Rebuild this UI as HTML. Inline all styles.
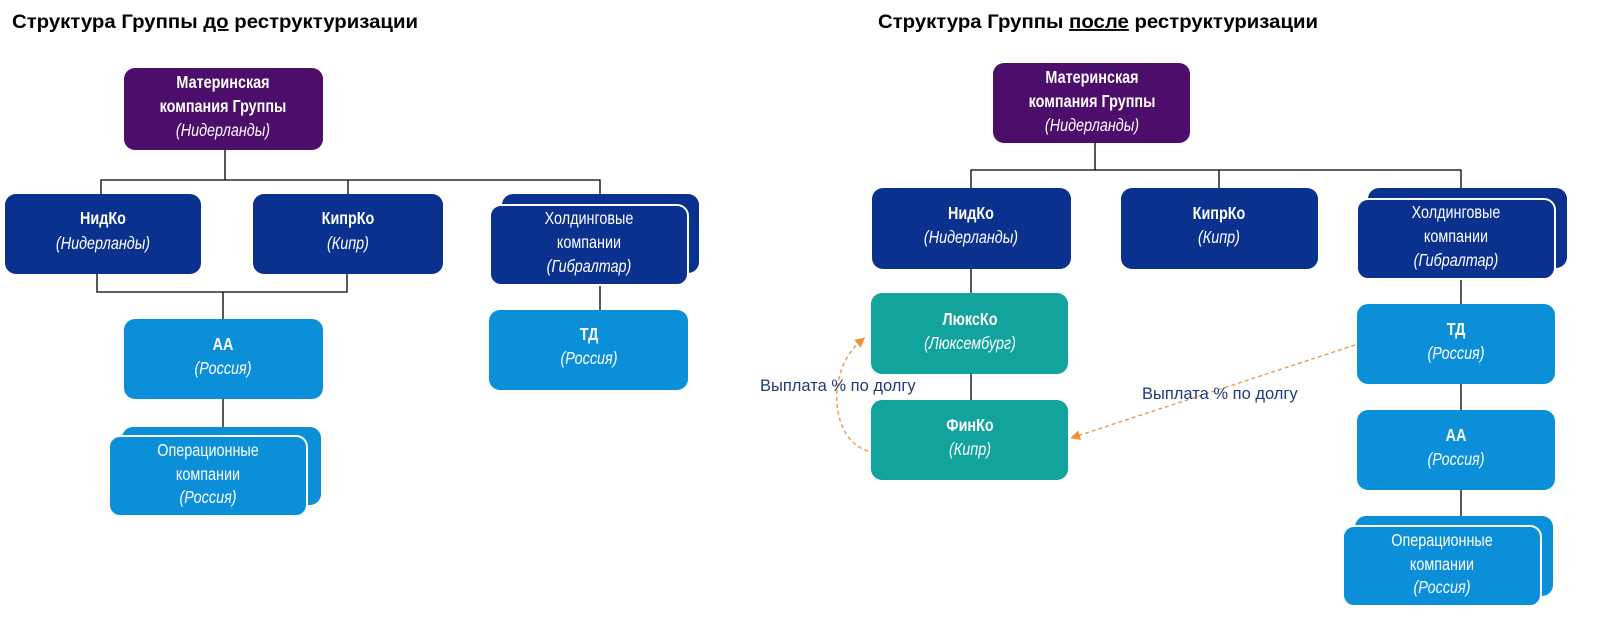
<!DOCTYPE html>
<html><head><meta charset="utf-8"><style>
html,body{margin:0;padding:0;background:#fff;}
svg{display:block;}
text{font-family:"Liberation Sans",sans-serif;font-size:18px;fill:#fff;text-anchor:middle;transform-box:fill-box;transform-origin:center;transform:scaleX(0.8);}
.b{font-weight:bold;}
.i{font-style:italic;}
.t{fill:#000;font-weight:bold;text-anchor:start;font-size:19px;transform:none;}
.l{fill:#1f3a7a;text-anchor:start;font-size:16.5px;transform:none;}
</style></head><body>
<svg width="1607" height="629" viewBox="0 0 1607 629">
<defs>
<marker id="ar" markerWidth="10" markerHeight="10" refX="6" refY="5" orient="auto" markerUnits="userSpaceOnUse">
<path d="M0,0 L10,5 L0,10 Z" fill="#f0913a"/></marker>
</defs>
<text class="t" x="12" y="28" textLength="406" lengthAdjust="spacingAndGlyphs">Структура Группы <tspan text-decoration="underline">до</tspan> реструктуризации</text>
<text class="t" x="878" y="28" textLength="440" lengthAdjust="spacingAndGlyphs">Структура Группы <tspan text-decoration="underline">после</tspan> реструктуризации</text>
<g stroke="#000" stroke-width="1.3" fill="none">
<path d="M225 150V180M101 194V180H600V194M348 180V194"/>
<path d="M97 274V292H347V274M223 292V319M223 399V427M600 285V310"/>
<path d="M1095 143V170M971 188V170H1461V188M1219 170V188"/>
<path d="M971 269V293M971 374V400M1461 279V304M1461 384V410M1461 490V517"/>
</g>
<g>
<rect x="124" y="68" width="199" height="82" rx="11" fill="#4c0d6b"/>
<rect x="5" y="194" width="196" height="80" rx="11" fill="#0b318f"/>
<rect x="253" y="194" width="190" height="80" rx="11" fill="#0b318f"/>
<rect x="502" y="194" width="197" height="79" rx="11" fill="#0b318f"/>
<rect x="490" y="205" width="198" height="80" rx="11" fill="#0b318f" stroke="#fff" stroke-width="2"/>
<rect x="124" y="319" width="199" height="80" rx="11" fill="#0b8fd8"/>
<rect x="489" y="310" width="199" height="80" rx="11" fill="#0b8fd8"/>
<rect x="122" y="427" width="199" height="78" rx="11" fill="#0b8fd8"/>
<rect x="109" y="436" width="198" height="80" rx="11" fill="#0b8fd8" stroke="#fff" stroke-width="2"/>

<rect x="993" y="63" width="197" height="80" rx="11" fill="#4c0d6b"/>
<rect x="872" y="188" width="199" height="81" rx="11" fill="#0b318f"/>
<rect x="1121" y="188" width="197" height="81" rx="11" fill="#0b318f"/>
<rect x="1368" y="188" width="199" height="80" rx="11" fill="#0b318f"/>
<rect x="1357" y="199" width="198" height="80" rx="11" fill="#0b318f" stroke="#fff" stroke-width="2"/>
<rect x="871" y="293" width="197" height="81" rx="11" fill="#12a39c"/>
<rect x="871" y="400" width="197" height="80" rx="11" fill="#12a39c"/>
<rect x="1357" y="304" width="198" height="80" rx="11" fill="#0b8fd8"/>
<rect x="1357" y="410" width="198" height="80" rx="11" fill="#0b8fd8"/>
<rect x="1355" y="516" width="198" height="80" rx="11" fill="#0b8fd8"/>
<rect x="1343" y="526" width="198" height="80" rx="11" fill="#0b8fd8" stroke="#fff" stroke-width="2"/>
</g>
<g stroke="#f0913a" stroke-width="1.3" fill="none" stroke-dasharray="4,3">
<path d="M868 451 C830 440 825 370 862 340" marker-end="url(#ar)"/>
<path d="M1355 345 L1074 437" marker-end="url(#ar)"/>
</g>
<text class="l" x="760" y="391">Выплата % по долгу</text>
<text class="l" x="1142" y="399">Выплата % по долгу</text>

<text class="b" x="223" y="88">Материнская</text>
<text class="b" x="223" y="112">компания Группы</text>
<text class="i" x="223" y="136">(Нидерланды)</text>
<text class="b" x="103" y="224">НидКо</text>
<text class="i" x="103" y="249">(Нидерланды)</text>
<text class="b" x="348" y="224">КипрКо</text>
<text class="i" x="348" y="249">(Кипр)</text>
<text x="589" y="224">Холдинговые</text>
<text x="589" y="248">компании</text>
<text class="i" x="589" y="272">(Гибралтар)</text>
<text class="b" x="223" y="350">АА</text>
<text class="i" x="223" y="374">(Россия)</text>
<text class="b" x="589" y="340">ТД</text>
<text class="i" x="589" y="364">(Россия)</text>
<text x="208" y="456">Операционные</text>
<text x="208" y="480">компании</text>
<text class="i" x="208" y="503">(Россия)</text>

<text class="b" x="1092" y="83">Материнская</text>
<text class="b" x="1092" y="107">компания Группы</text>
<text class="i" x="1092" y="131">(Нидерланды)</text>
<text class="b" x="971" y="219">НидКо</text>
<text class="i" x="971" y="243">(Нидерланды)</text>
<text class="b" x="1219" y="219">КипрКо</text>
<text class="i" x="1219" y="243">(Кипр)</text>
<text x="1456" y="218">Холдинговые</text>
<text x="1456" y="242">компании</text>
<text class="i" x="1456" y="266">(Гибралтар)</text>
<text class="b" x="970" y="325">ЛюксКо</text>
<text class="i" x="970" y="349">(Люксембург)</text>
<text class="b" x="970" y="431">ФинКо</text>
<text class="i" x="970" y="455">(Кипр)</text>
<text class="b" x="1456" y="335">ТД</text>
<text class="i" x="1456" y="359">(Россия)</text>
<text class="b" x="1456" y="441">АА</text>
<text class="i" x="1456" y="465">(Россия)</text>
<text x="1442" y="546">Операционные</text>
<text x="1442" y="570">компании</text>
<text class="i" x="1442" y="593">(Россия)</text>
</svg>
</body></html>
